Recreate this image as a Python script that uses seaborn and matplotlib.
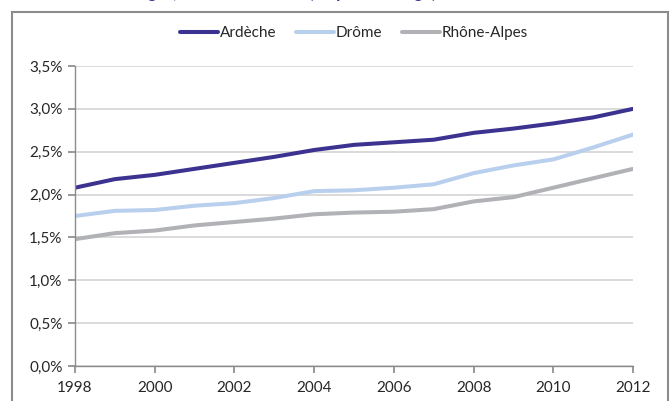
import matplotlib
matplotlib.use("Agg")
import matplotlib.pyplot as plt
import seaborn as sns
import pandas as pd
from matplotlib.patches import Rectangle
from matplotlib.ticker import FuncFormatter

years = list(range(1998, 2013))
ardeche = [2.08, 2.18, 2.23, 2.30, 2.37, 2.44, 2.52, 2.58, 2.61, 2.64, 2.72, 2.77, 2.83, 2.90, 3.00]
drome = [1.75, 1.81, 1.82, 1.87, 1.90, 1.96, 2.04, 2.05, 2.08, 2.12, 2.25, 2.34, 2.41, 2.55, 2.70]
rhone = [1.48, 1.55, 1.58, 1.64, 1.68, 1.72, 1.77, 1.79, 1.80, 1.83, 1.92, 1.97, 2.08, 2.19, 2.30]
series_names = ["Ardèche", "Drôme", "Rhône-Alpes"]
colors = ["#3C3391", "#B8D0ED", "#B0B2B6"]
title_text = "Part des ménages, de 1998 à 2012 (en pourcentage)"

df = pd.concat([
    pd.DataFrame({"Année": years, "Valeur": v, "Zone": n})
    for n, v in zip(series_names, [ardeche, drome, rhone])
])

sns.set_theme(style="white")
plt.rcParams["font.family"] = ["Lato", "DejaVu Sans"]

fig = plt.figure(figsize=(6.71, 4.01), dpi=100)
ax = fig.add_axes([75/671, 35/401, (633-75)/671, 300/401])

# outer frame
fig.patches.append(Rectangle((12/671, -0.05), (668-12)/671, (395-6)/401 + 0.05,
                             transform=fig.transFigure, fill=False,
                             edgecolor="#8C8C8C", linewidth=1.5))

sns.lineplot(data=df, x="Année", y="Valeur", hue="Zone", palette=colors,
             linewidth=2.9, ax=ax, legend=True)

ax.set_xlim(1998, 2012)
ax.set_ylim(0, 3.5)
ax.set_xticks(range(1998, 2013, 2))
ax.set_yticks([i * 0.5 for i in range(8)])
ax.yaxis.set_major_formatter(FuncFormatter(lambda v, p: f"{v:.1f}%".replace(".", ",")))
ax.set_xlabel("")
ax.set_ylabel("")
ax.grid(axis="y", color="#D4D4D4", linewidth=1.2)
ax.grid(axis="x", visible=False)
for s in ["top", "right"]:
    ax.spines[s].set_visible(False)
for s in ["left", "bottom"]:
    ax.spines[s].set_color("#8C8C8C")
    ax.spines[s].set_linewidth(1.0)
ax.tick_params(axis="x", bottom=True, length=5, color="#8C8C8C", labelsize=11, pad=6)
ax.tick_params(axis="y", left=True, length=5, color="#8C8C8C", labelsize=11, pad=4)

handles, labels = ax.get_legend_handles_labels()
ax.legend(handles, labels, loc="center", bbox_to_anchor=(0.5, (366-33)/300),
          ncol=3, frameon=False, fontsize=11, handlelength=2.5, handletextpad=0.1,
          columnspacing=1.3)

fig.text(0.06, 1.021, title_text, color="#3C3391", fontsize=13, fontweight="bold",
         style="italic", ha="left", va="center")

fig.savefig("out.png", dpi=100)
